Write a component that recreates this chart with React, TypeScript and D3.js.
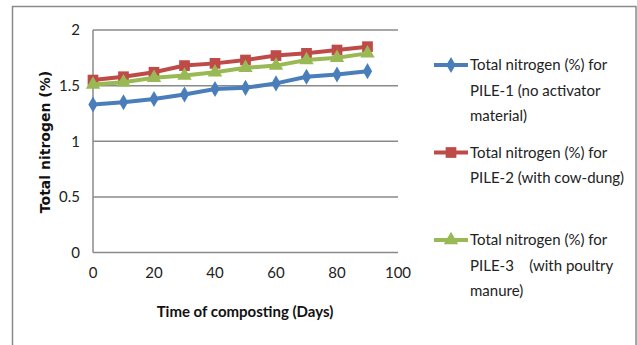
import React from "react";
import * as d3 from "d3";

const days = [0, 10, 20, 30, 40, 50, 60, 70, 80, 90];
const pile1 = [1.33, 1.35, 1.38, 1.42, 1.47, 1.48, 1.52, 1.58, 1.6, 1.63];
const pile2 = [1.55, 1.58, 1.62, 1.68, 1.7, 1.73, 1.77, 1.79, 1.82, 1.85];
const pile3 = [1.51, 1.53, 1.57, 1.59, 1.62, 1.66, 1.68, 1.73, 1.75, 1.79];
const xTicks = [0, 20, 40, 60, 80, 100];
const yTicks = [0, 0.5, 1, 1.5, 2];
const legendLines = [
  ["Total nitrogen (%) for", "PILE-1 (no activator", "material)"],
  ["Total nitrogen (%) for", "PILE-2 (with cow-dung)"],
  ["Total nitrogen (%) for", "PILE-3    (with poultry", "manure)"],
];

const W = 637;
const H = 345;
const FONT = "Lato, 'Liberation Sans', sans-serif";

const x = d3.scaleLinear().domain([0, 100]).range([93, 398]);
const y = d3.scaleLinear().domain([0, 2]).range([252.5, 30]);

const series = [
  { values: pile1, color: "#4A7EBB", marker: "diamond" },
  { values: pile2, color: "#BE4B48", marker: "square" },
  { values: pile3, color: "#98B954", marker: "triangle" },
];

const symbolFor = (m: string) =>
  m === "diamond"
    ? d3.symbol().type(d3.symbolDiamond).size(75)
    : m === "square"
    ? d3.symbol().type(d3.symbolSquare).size(115)
    : d3.symbol().type(d3.symbolTriangle).size(90);

const legendY = [65, 152.5, 240];
const lineH = 25.5;

export default function App() {
  const line = d3
    .line<number>()
    .x((_, i) => x(days[i]))
    .y((d) => y(d));

  return (
    <svg
      width={W}
      height={H}
      style={{ position: "absolute", left: 0, top: 0, background: "#fff" }}
      fontFamily={FONT}
    >
      {/* chart frame */}
      <path d={`M12.5,${H + 5} V6.5 H636 V${H + 5}`} fill="none" stroke="#8a8a8a" strokeWidth={1.5} />

      {/* gridlines */}
      {yTicks.map((t) => (
        <line key={t} x1={x(0)} x2={x(100)} y1={y(t)} y2={y(t)} stroke="#8a8a8a" strokeWidth={1.5} />
      ))}
      <line x1={x(0)} x2={x(0)} y1={y(0)} y2={y(2)} stroke="#8a8a8a" strokeWidth={1.5} />

      {/* y tick labels */}
      {yTicks.map((t) => (
        <text key={t} x={80} y={y(t)} dy="0.35em" textAnchor="end" fontSize={15} fill="#222">
          {t}
        </text>
      ))}
      {/* x tick labels */}
      {xTicks.map((t) => (
        <text key={t} x={x(t)} y={273} dy="0.35em" textAnchor="middle" fontSize={15} fill="#222">
          {t}
        </text>
      ))}

      <text x={245} y={312} dy="0.35em" textAnchor="middle" fontSize={15} fontWeight="bold" fill="#111">
        Time of composting (Days)
      </text>
      <text
        transform={`translate(45,142) rotate(-90)`}
        dy="0.35em"
        textAnchor="middle"
        fontSize={14}
        fontWeight="bold"
        fontFamily="'DejaVu Sans', sans-serif"
        fill="#111"
      >
        Total nitrogen (%)
      </text>

      {/* series */}
      {series.map((s, si) => (
        <g key={si}>
          <path d={line(s.values) || ""} fill="none" stroke={s.color} strokeWidth={4} />
          {s.values.map((v, i) => (
            <path
              key={i}
              transform={`translate(${x(days[i])},${y(v)})`}
              d={symbolFor(s.marker)() || ""}
              fill={s.color}
            />
          ))}
        </g>
      ))}

      {/* legend */}
      {series.map((s, si) => (
        <g key={si}>
          <line x1={434} x2={468} y1={legendY[si]} y2={legendY[si]} stroke={s.color} strokeWidth={4} />
          <path transform={`translate(451,${legendY[si]})`} d={symbolFor(s.marker)() || ""} fill={s.color} />
          {legendLines[si].map((t, li) => (
            <text
              key={li}
              x={470}
              y={legendY[si] + li * lineH}
              dy="0.35em"
              fontSize={15}
              fill="#222"
              style={{ whiteSpace: "pre" }}
            >
              {t}
            </text>
          ))}
        </g>
      ))}
    </svg>
  );
}
